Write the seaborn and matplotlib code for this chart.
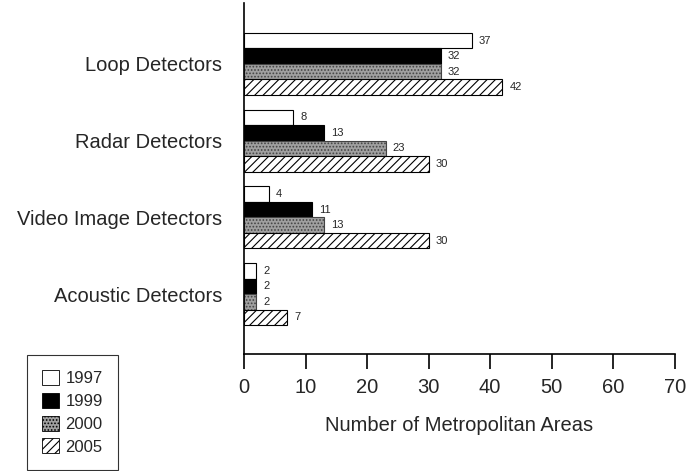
import pandas as pd
import numpy as np
import matplotlib.pyplot as plt
import seaborn as sns
from matplotlib.patches import Patch

# ── Settings ──────────────────────────────────────────
sns.set_theme(style='white')
plt.rcParams['font.family'] = ['Liberation Sans', 'DejaVu Sans']
plt.rcParams['hatch.linewidth'] = 0.8

# ── Data ──────────────────────────────────────────────
categories = ['Loop Detectors', 'Radar Detectors',
              'Video Image Detectors', 'Acoustic Detectors']
years = ['1997', '1999', '2000', '2005']
v1997 = [37, 8, 4, 2]
v1999 = [32, 13, 11, 2]
v2000 = [32, 23, 13, 2]
v2005 = [42, 30, 30, 7]

df = pd.DataFrame({
    'category': categories * 4,
    'year': sum([[y] * len(categories) for y in years], []),
    'value': v1997 + v1999 + v2000 + v2005,
})

faces = {'1997': 'white', '1999': 'black', '2000': '#a0a0a0', '2005': 'white'}
hatches = {'1997': '', '1999': '', '2000': '.....', '2005': '////'}

# ── Plot ──────────────────────────────────────────────
fig = plt.figure(figsize=(6.9, 4.71), dpi=100)
ax = fig.add_axes([0.3536, 0.2484, 0.6244, 0.7456])

sns.barplot(data=df, y='category', x='value', hue='year', orient='h',
            order=categories, hue_order=years, width=0.81,
            palette=faces, edgecolor='black', linewidth=0.8,
            legend=False, ax=ax)

for cont, yr in zip(ax.containers, years):
    for bar in cont:
        bar.set_hatch(hatches[yr])
        bar.set_edgecolor('#444444' if yr == '2000' else 'black')
    ax.bar_label(cont, padding=5, fontsize=8)

ax.set_xlim(0, 70)
ax.set_ylim(3.78, -0.795)
ax.set_xticks(range(0, 71, 10))
ax.tick_params(axis='x', direction='out', length=11, width=1.2,
               labelsize=14.5, pad=6, bottom=True, color='black')
ax.tick_params(axis='y', length=0, labelsize=14.5, pad=15.5)
ax.set_ylabel('')
ax.set_xlabel('Number of Metropolitan Areas', fontsize=14.5, labelpad=14)
for s in ['top', 'right']:
    ax.spines[s].set_visible(False)
for s in ['left', 'bottom']:
    ax.spines[s].set_color('black')
    ax.spines[s].set_linewidth(1.2)

handles = [Patch(facecolor=faces[y], edgecolor='black', hatch=hatches[y],
                 linewidth=0.6, label=y) for y in years]
leg = fig.legend(handles=handles, loc='upper left',
                 bbox_to_anchor=(0.0391, 0.2463), borderaxespad=0,
                 fontsize=12, frameon=True, fancybox=False,
                 handlelength=1.0, handleheight=1.0, handletextpad=0.4,
                 labelspacing=0.4, borderpad=0.9)
leg.get_frame().set_edgecolor('black')
leg.get_frame().set_linewidth(0.8)

fig.savefig('out.png', dpi=100)
